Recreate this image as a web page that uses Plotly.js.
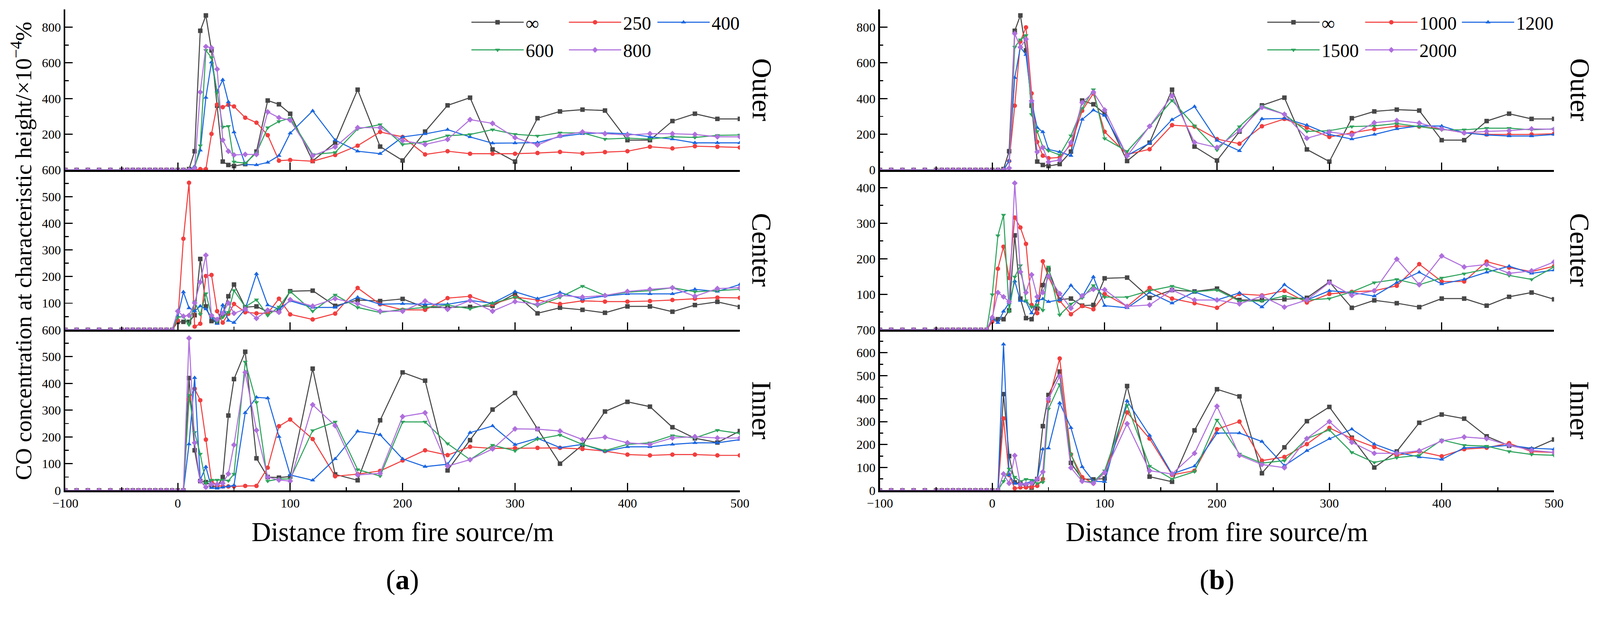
<!DOCTYPE html>
<html>
<head>
<meta charset="utf-8">
<script src="https://cdn.plot.ly/plotly-3.0.1.min.js"></script>
<style>html,body{margin:0;padding:0;background:#fff;overflow:hidden;}</style>
</head>
<body>
<div id="chart"></div>
<script>
// ---------------- data ----------------
const distUp = [-100,-90,-80,-70,-60,-50,-45,-40,-35,-30,-25,-20,-15,-10,-5];
const upstreamValues = [0,0,0,0,0,0,0,0,0,0,0,0,0,0,0];
const distDown = [0,5,10,15,20,25,30,35,40,45,50,60,70,80,90,100,120,140,160,180,200,220,240,260,280,300,320,340,360,380,400,420,440,460,480,500];

const leftNames = ['\u221E','250','400','600','800'];
const rightNames = ['\u221E','1000','1200','1500','2000'];
const facetLabels = ['Outer','Center','Inner'];
const xTickVals = [-100,0,100,200,300,400,500];
const yTickVals = [
  [200,400,600,800],
  [100,200,300,400,500,600],
  [0,100,200,300,400,500,600],
  [0,200,400,600,800],
  [100,200,300,400],
  [0,100,200,300,400,500,600,700]
];

// infinite case (same curve in both panels)
const infOuter  = [0,0,5,105,780,866,670,360,47,28,22,33,103,389,368,315,50,153,450,131,53,215,362,405,115,47,290,328,338,333,167,167,274,315,286,286];
const infCenter = [30,30,30,55,266,88,33,30,60,126,170,85,88,68,70,145,147,90,112,108,116,84,84,86,90,135,62,83,75,64,88,88,68,93,105,86];
const infInner  = [0,0,420,150,35,31,19,12,50,280,416,518,120,50,48,52,455,60,38,262,441,410,75,188,302,364,230,100,170,295,331,313,236,195,179,222];

// panel (a)
const r250Outer  = [0,0,0,0,5,5,202,366,352,365,356,293,265,195,52,56,49,84,136,213,185,87,105,91,91,91,95,101,93,100,105,130,121,133,130,126];
const r250Center = [35,342,552,12,23,202,206,70,27,60,97,66,62,62,117,58,39,61,157,96,75,75,119,126,96,123,112,97,109,106,106,108,112,117,121,120];
const r250Inner  = [0,0,340,380,337,190,35,19,15,15,15,17,17,85,240,265,192,53,61,73,112,150,132,163,157,158,159,159,155,147,134,131,134,134,131,131];
const b400Outer  = [0,0,0,20,110,406,604,440,505,381,212,31,28,42,80,206,331,167,105,91,185,202,226,185,150,151,153,187,203,208,203,186,173,152,152,152];
const b400Center = [50,142,82,70,89,78,47,23,93,35,27,78,210,93,78,109,84,84,122,96,98,96,96,110,100,143,117,140,115,127,135,135,135,152,144,170];
const b400Inner  = [0,0,173,421,40,88,10,8,12,15,19,290,348,345,201,58,38,118,221,208,118,89,98,216,241,171,195,160,172,146,163,163,172,178,178,190];
const g600Outer  = [0,0,0,10,136,670,629,433,241,245,45,38,96,237,272,290,87,98,230,254,143,157,192,199,226,200,191,208,208,173,178,173,186,182,194,196];
const g600Center = [47,50,19,105,58,136,54,31,47,66,148,86,113,54,86,144,70,131,84,65,77,84,93,79,100,123,90,122,164,129,141,147,158,143,147,152];
const g600Inner  = [0,0,356,217,136,27,39,39,39,36,61,480,329,35,43,43,224,256,78,54,256,256,175,115,169,148,192,207,172,149,172,178,205,196,225,213];
const p800Outer  = [0,0,0,10,436,691,684,565,168,105,84,87,87,325,293,279,80,129,237,237,164,143,171,282,261,181,140,192,213,203,196,203,203,199,186,186];
const p800Center = [70,51,54,101,179,280,54,39,62,101,62,78,43,74,66,113,89,117,98,70,70,108,77,110,70,106,96,129,123,129,144,152,158,126,155,158];
const p800Inner  = [0,0,569,178,35,12,23,23,27,62,170,441,225,50,39,35,320,242,58,64,276,290,91,115,155,230,229,222,190,199,178,172,196,201,196,196];

// panel (b)
const r1000Outer  = [0,0,0,50,360,720,799,429,157,80,66,70,143,332,429,214,87,116,251,243,173,147,245,286,237,185,208,229,246,243,230,208,199,199,199,203];
const r1000Center = [23,172,234,146,316,288,242,70,47,193,149,82,44,67,58,101,66,118,88,75,62,101,97,110,77,101,107,110,124,185,136,136,192,175,164,179];
const r1000Inner  = [0,0,314,67,9,13,13,15,20,50,390,575,157,58,31,77,340,226,68,86,267,300,130,146,202,273,226,189,153,170,149,180,186,206,169,166];
const b1200Outer  = [0,0,0,52,517,688,646,380,237,213,115,101,80,283,335,305,81,150,282,355,165,107,286,289,251,199,173,199,230,247,246,208,196,190,190,199];
const b1200Center = [32,20,52,76,137,82,80,47,82,87,79,84,125,93,149,68,62,105,75,107,84,104,64,127,84,110,105,95,133,162,129,142,162,179,159,168];
const b1200Inner  = [0,0,637,67,31,27,31,40,49,180,184,381,273,103,40,38,390,240,72,106,250,250,213,108,173,225,267,202,166,146,135,186,189,197,184,180];
const g1500Outer  = [0,0,0,10,688,730,754,311,216,129,108,84,192,345,450,176,104,243,390,247,112,243,359,312,216,220,243,247,260,243,225,225,234,234,225,230];
const g1500Center = [99,265,323,52,149,181,82,64,70,55,177,42,73,90,125,92,92,110,123,107,112,81,81,95,84,88,107,133,142,127,146,158,171,153,142,177];
const g1500Inner  = [0,0,40,94,58,40,49,45,31,36,355,462,157,40,36,86,371,106,50,82,307,159,119,130,226,264,166,122,143,153,220,197,193,170,157,153];
const p2000Outer  = [0,0,0,10,764,688,733,387,101,126,45,56,154,377,436,336,78,245,416,155,126,220,351,312,178,213,196,265,277,263,230,208,216,220,230,228];
const p2000Center = [35,105,93,79,413,163,105,155,93,105,151,102,61,96,114,113,66,70,112,84,84,73,95,64,84,133,97,110,199,127,208,177,184,159,166,191];
const p2000Inner  = [0,0,72,31,152,27,27,31,49,81,399,498,99,40,31,78,291,86,72,162,367,153,113,99,226,300,210,162,162,173,216,233,226,197,175,166];

// ---------------- styles ----------------
const colors  = ['#474747','#F23E3E','#1A66E0','#2DA35B','#AF6FDD'];
const symbols = ['square','circle','triangle-up','triangle-down','diamond'];
const FONT = 'Liberation Serif, Times New Roman, serif';

// design size of the reference; the drawing is scaled to the real viewport
const REF_W = 4284, REF_H = 1615;
const VW = window.innerWidth || REF_W, VH = window.innerHeight || REF_H;
const S = Math.min(VW / REF_W, VH / REF_H);
const W = Math.round(REF_W * S), H = Math.round(REF_H * S);
const sz = v => v * S;
document.getElementById('chart').style.width = W + 'px';
document.getElementById('chart').style.height = H + 'px';

const leftSeries = [
  [infOuter, infCenter, infInner],
  [r250Outer, r250Center, r250Inner],
  [b400Outer, b400Center, b400Inner],
  [g600Outer, g600Center, g600Inner],
  [p800Outer, p800Center, p800Inner]
];
const rightSeries = [
  [infOuter, infCenter, infInner],
  [r1000Outer, r1000Center, r1000Inner],
  [b1200Outer, b1200Center, b1200Inner],
  [g1500Outer, g1500Center, g1500Inner],
  [p2000Outer, p2000Center, p2000Inner]
];

const xs = distUp.concat(distDown);
const traces = [];
function legendId(k) { return k === 1 ? 'legend' : 'legend' + k; }
function addSide(series, names, axOffset, legendOffset) {
  series.forEach((facets, si) => {
    facets.forEach((vals, fi) => {
      const n = axOffset + fi + 1;
      traces.push({
        type: 'scatter', mode: 'lines+markers',
        x: xs, y: upstreamValues.concat(vals),
        xaxis: n === 1 ? 'x' : 'x' + n,
        yaxis: n === 1 ? 'y' : 'y' + n,
        name: names[si],
        legend: legendId(legendOffset + si + 1),
        showlegend: fi === 0,
        line: {color: colors[si], width: sz(2.8)},
        marker: {color: colors[si], symbol: symbols[si], size: sz(12), line: {width: 0}}
      });
    });
  });
}
addSide(leftSeries, leftNames, 0, 0);
addSide(rightSeries, rightNames, 3, 5);

// ---------------- layout (positions given in reference pixels) ----------------
const px = v => v / REF_W;
const py = v => 1 - v / REF_H;
const xDomL = [px(175), px(1981)];
const xDomR = [px(2356), px(4161)];
const yDom = [[py(455), py(25)], [py(883), py(455)], [py(1313), py(883)]];
const yRanges = [[0,900],[0,600],[0,600],[0,900],[0,450],[0,700]];
const yMinor = [100,50,50,100,50,50];

const layout = {
  width: W, height: H, autosize: false,
  margin: {l:0, r:0, t:0, b:0, pad:0},
  paper_bgcolor: '#fff', plot_bgcolor: 'rgba(0,0,0,0)',
  font: {family: FONT, color: '#000', size: sz(34)},
  annotations: [], showlegend: true
};

for (let n = 1; n <= 6; n++) {
  const fi = (n - 1) % 3;
  const isLeft = n <= 3;
  const xk = n === 1 ? 'xaxis' : 'xaxis' + n;
  const yk = n === 1 ? 'yaxis' : 'yaxis' + n;
  layout[xk] = {
    domain: isLeft ? xDomL : xDomR,
    anchor: n === 1 ? 'y' : 'y' + n,
    range: [-100, 500], tickvals: xTickVals,
    showticklabels: fi === 2,
    ticks: 'inside', ticklen: sz(20), tickwidth: sz(3), tickcolor: '#000',
    minor: {ticks: 'inside', ticklen: sz(9), tickwidth: sz(3), dtick: 50, tick0: 0, tickcolor: '#000'},
    showline: true, linewidth: sz(5), linecolor: '#000',
    showgrid: false, zeroline: false,
    tickfont: {family: FONT, size: sz(34), color: '#000'},
    ticklabelstandoff: sz(12)
  };
  layout[yk] = {
    domain: yDom[fi],
    anchor: n === 1 ? 'x' : 'x' + n,
    range: yRanges[n - 1], tickvals: yTickVals[n - 1],
    ticks: 'inside', ticklen: sz(20), tickwidth: sz(3), tickcolor: '#000',
    minor: {ticks: 'inside', ticklen: sz(9), tickwidth: sz(3), dtick: yMinor[n - 1], tick0: 0, tickcolor: '#000'},
    showline: true, linewidth: sz(5), linecolor: '#000',
    showgrid: false, zeroline: false,
    tickfont: {family: FONT, size: sz(34), color: '#000'},
    ticklabelstandoff: sz(14)
  };
  layout.annotations.push({
    xref: 'paper', yref: 'paper',
    x: isLeft ? px(2040) : px(4230), y: (yDom[fi][0] + yDom[fi][1]) / 2,
    text: facetLabels[fi], showarrow: false, textangle: 90,
    font: {family: FONT, size: sz(74), color: '#000'},
    xanchor: 'center', yanchor: 'middle'
  });
}

layout.annotations.push({
  xref: 'paper', yref: 'paper', x: px(58), y: py(671),
  text: 'CO concentration at characteristic height/\u00D710<sup>\u22124</sup>%',
  showarrow: false, textangle: -90, xanchor: 'center', yanchor: 'middle',
  font: {family: FONT, size: sz(62), color: '#000'}
});
[[1078, '(<b>a</b>)'], [3258, '(<b>b</b>)']].forEach(([cx, tag]) => {
  layout.annotations.push({
    xref: 'paper', yref: 'paper', x: px(cx), y: py(1425),
    text: 'Distance from fire source/m', showarrow: false,
    xanchor: 'center', yanchor: 'middle',
    font: {family: FONT, size: sz(72), color: '#000'}
  });
  layout.annotations.push({
    xref: 'paper', yref: 'paper', x: px(cx), y: py(1552),
    text: tag, showarrow: false, xanchor: 'center', yanchor: 'middle',
    font: {family: FONT, size: sz(76), color: '#000'}
  });
});

// one legend box per entry, placed where the reference draws each entry
const legendSpots = [
  [1262, 60], [1523, 60], [1760, 60], [1262, 134], [1523, 134],
  [3393, 60], [3655, 60], [3914, 60], [3393, 134], [3655, 134]
];
legendSpots.forEach(([lx, ly], k) => {
  layout[legendId(k + 1)] = {
    orientation: 'h', x: px(lx - 5), y: py(ly), xanchor: 'left', yanchor: 'middle',
    bgcolor: 'rgba(0,0,0,0)', borderwidth: 0,
    font: {family: FONT, size: sz(50), color: '#000'},
    itemwidth: Math.max(30, sz(140)),
    itemclick: false, itemdoubleclick: false
  };
});

Plotly.newPlot('chart', traces, layout, {staticPlot: true, displayModeBar: false});
</script>
</body>
</html>
